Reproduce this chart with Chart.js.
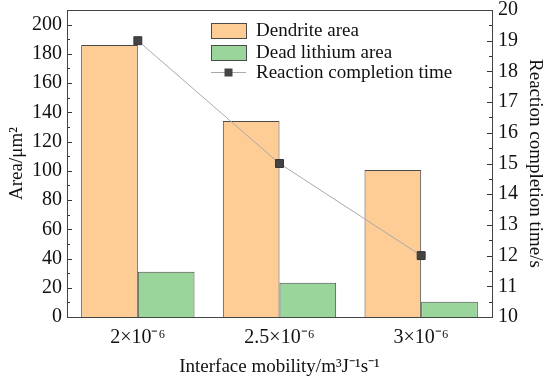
<!DOCTYPE html>
<html>
<head>
<meta charset="utf-8">
<script src="https://cdn.jsdelivr.net/npm/chart.js@4.4.0/dist/chart.umd.min.js"></script>
<style>
  html, body { margin: 0; padding: 0; background: #fff; }
  #wrap { width: 550px; height: 380px; }
</style>
</head>
<body>
<div id="wrap"><canvas id="chart" width="550" height="380"></canvas></div>
<script>
// data
const categories = ['2×10⁻⁶', '2.5×10⁻⁶', '3×10⁻⁶'];
const dendriteArea = [186, 134, 100.5];
const deadLithiumArea = [31, 23.5, 10.5];
const completionTime = [19, 15, 12];
const areaTicks = [0, 20, 40, 60, 80, 100, 120, 140, 160, 180, 200];
const timeTicks = [10, 11, 12, 13, 14, 15, 16, 17, 18, 19, 20];

const FONT = 'Liberation Serif, Times New Roman, serif';
const ORANGE = '#FECC95';
const GREEN = '#9AD69C';
const EDGE = '#4a4a4a';

// inward major/minor ticks, frame box and inline legend
const framePlugin = {
    id: 'frame',
    afterDatasetsDraw(chart) {
        const { ctx, chartArea: a, scales } = chart;
        ctx.save();
        ctx.strokeStyle = '#333';
        ctx.lineWidth = 1;

        const yl = scales.y;
        areaTicks.forEach((v, i) => {
            const vals = i < areaTicks.length - 1 ? [v, (v + areaTicks[i + 1]) / 2] : [v];
            vals.forEach((t, k) => {
                const py = Math.round(yl.getPixelForValue(t)) + 0.5;
                ctx.beginPath();
                ctx.moveTo(a.left, py);
                ctx.lineTo(a.left + (k === 0 ? 5 : 3), py);
                ctx.stroke();
            });
        });
        const yr = scales.y1;
        timeTicks.forEach((v, i) => {
            const vals = i < timeTicks.length - 1 ? [v, (v + timeTicks[i + 1]) / 2] : [v];
            vals.forEach((t, k) => {
                const py = Math.round(yr.getPixelForValue(t)) + 0.5;
                ctx.beginPath();
                ctx.moveTo(a.right, py);
                ctx.lineTo(a.right - (k === 0 ? 5 : 3), py);
                ctx.stroke();
            });
        });

        // frame
        ctx.strokeStyle = '#444';
        ctx.strokeRect(Math.round(a.left) + 0.5, Math.round(a.top) + 0.5,
            Math.round(a.right - a.left), Math.round(a.bottom - a.top));

        // legend
        const ds = chart.data.datasets;
        const bars = ds.filter(d => d.type === 'bar');
        const line = ds.find(d => d.type === 'line');
        const bx = a.left + 144, bw = 35, bh = 15, tx = bx + bw + 10;
        const rows = [a.top + 20.5, a.top + 42.5, a.top + 62];
        ctx.font = '19px ' + FONT;
        ctx.textBaseline = 'middle';
        bars.forEach((d, i) => {
            ctx.fillStyle = d.backgroundColor;
            ctx.fillRect(bx, rows[i] - bh / 2, bw, bh);
            ctx.strokeStyle = EDGE;
            ctx.strokeRect(bx + 0.5, rows[i] - bh / 2 + 0.5, bw, bh);
            ctx.fillStyle = '#111';
            ctx.fillText(d.label, tx, rows[i] + 1);
        });
        ctx.strokeStyle = '#aaa';
        ctx.beginPath();
        ctx.moveTo(bx, rows[2] + 0.5);
        ctx.lineTo(bx + bw, rows[2] + 0.5);
        ctx.stroke();
        ctx.fillStyle = '#444';
        ctx.fillRect(bx + bw / 2 - 4, rows[2] - 3.5, 8, 8);
        ctx.fillStyle = '#111';
        ctx.fillText(line.label, tx, rows[2] + 1);
        ctx.restore();
    }
};

const tickFont = { family: FONT, size: 20 };
const titleFont = { family: FONT, size: 19 };

const ctx = document.getElementById('chart');
new Chart(ctx, {
    data: {
        labels: categories,
        datasets: [{
            type: 'line',
            label: 'Reaction completion time',
            data: completionTime,
            yAxisID: 'y1',
            borderColor: '#aaa',
            borderWidth: 1,
            pointStyle: 'rect',
            pointRadius: 5.6,
            pointBackgroundColor: '#444',
            pointBorderColor: '#333',
            pointBorderWidth: 1,
            order: 0
        }, {
            type: 'bar',
            label: 'Dendrite area',
            data: dendriteArea,
            yAxisID: 'y',
            backgroundColor: ORANGE,
            borderColor: EDGE,
            borderWidth: 1,
            categoryPercentage: 0.8,
            barPercentage: 1,
            order: 1
        }, {
            type: 'bar',
            label: 'Dead lithium area',
            data: deadLithiumArea,
            yAxisID: 'y',
            backgroundColor: GREEN,
            borderColor: EDGE,
            borderWidth: 1,
            categoryPercentage: 0.8,
            barPercentage: 1,
            order: 1
        }]
    },
    options: {
        responsive: false,
        animation: false,
        layout: { padding: { top: 0 } },
        plugins: { legend: { display: false }, tooltip: { enabled: false } },
        scales: {
            x: {
                grid: { display: false, drawTicks: false },
                border: { display: false },
                ticks: { color: '#111', font: tickFont, padding: 9 },
                title: {
                    display: true, text: 'Interface mobility/m³J⁻¹s⁻¹', color: '#111',
                    font: titleFont, padding: { top: 4, bottom: 2 }
                },
                afterFit(s) { s.height = 63; }
            },
            y: {
                position: 'left',
                min: 0, max: 210,
                grid: { display: false, drawTicks: false },
                border: { display: false },
                afterBuildTicks(s) { s.ticks = areaTicks.map(v => ({ value: v })); },
                ticks: { color: '#111', font: tickFont, padding: 5 },
                title: {
                    display: true, text: 'Area/μm²', color: '#111',
                    font: titleFont, padding: { top: 6, bottom: 0 }
                },
                afterFit(s) { s.width = 67; s.paddingTop = 10; }
            },
            y1: {
                position: 'right',
                min: 10, max: 20,
                grid: { display: false, drawTicks: false },
                border: { display: false },
                afterBuildTicks(s) { s.ticks = timeTicks.map(v => ({ value: v })); },
                ticks: { color: '#111', font: tickFont, padding: 6 },
                title: {
                    display: true, text: 'Reaction completion time/s', color: '#111',
                    font: titleFont, padding: { top: 4, bottom: 0 }
                },
                afterFit(s) { s.width = 58; s.paddingTop = 10; }
            }
        }
    },
    plugins: [framePlugin]
});
</script>
</body>
</html>
